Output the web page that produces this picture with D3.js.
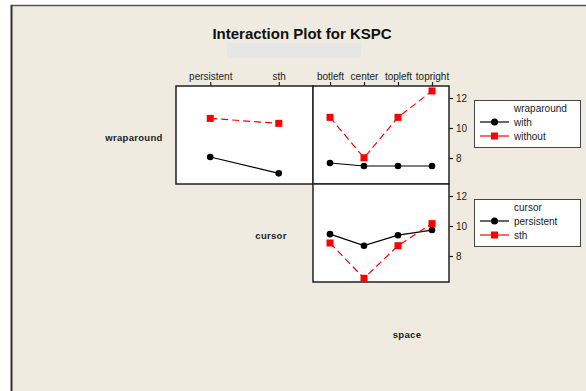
<!DOCTYPE html>
<html><head><meta charset="utf-8">
<script src="https://cdn.jsdelivr.net/npm/d3@7"></script>
<style>
html,body{margin:0;padding:0;background:#fff;}
svg{display:block;font-family:"Liberation Sans",Arial,sans-serif;}
</style></head>
<body>
<script>
// ---- data ----
const cursorLevels = ["persistent", "sth"];
const spaceLevels = ["botleft", "center", "topleft", "topright"];
const wrapLevels = ["with", "without"];
const yTicks = [8, 10, 12];

// wraparound x cursor (x = cursor)
const wrapByCursorWith = [8.07, 6.98];
const wrapByCursorWithout = [10.64, 10.31];
// wraparound x space (x = space)
const wrapBySpaceWith = [7.67, 7.47, 7.47, 7.47];
const wrapBySpaceWithout = [10.71, 8.02, 10.71, 12.47];
// cursor x space (x = space)
const cursorBySpacePersistent = [9.46, 8.69, 9.39, 9.73];
const cursorBySpaceSth = [8.87, 6.52, 8.69, 10.16];

const W = 586, H = 391;
const svg = d3.select("body").append("svg").attr("width", W).attr("height", H);

// background
svg.append("rect").attr("x", 11).attr("y", 5).attr("width", W - 11).attr("height", H - 5).attr("fill", "#efebe0");
svg.append("line").attr("x1", 11).attr("x2", W).attr("y1", 5.5).attr("y2", 5.5).attr("stroke", "#555").attr("stroke-width", 1.5);
svg.append("line").attr("x1", 11.5).attr("x2", 11.5).attr("y1", 5).attr("y2", H).attr("stroke", "#333").attr("stroke-width", 2);

// title
svg.append("text").attr("x", 302).attr("y", 39).attr("text-anchor", "middle")
  .attr("font-size", 15).attr("font-weight", "bold").attr("fill", "#111").text("Interaction Plot for KSPC");
svg.append("rect").attr("x", 227).attr("y", 43).attr("width", 134).attr("height", 15).attr("fill", "#e6e6e6");

// panels geometry
const c1 = {x0: 176, x1: 313}, c2 = {x0: 313, x1: 449};
const r1 = {y0: 86, y1: 184}, r2 = {y0: 184, y1: 282};

const xCursor = d3.scalePoint().domain(cursorLevels).range([c1.x0, c1.x1]).padding(0.5);
const xSpace = d3.scalePoint().domain(spaceLevels).range([c2.x0, c2.x1]).padding(0.5);
const yDomain = [6.27, 12.8];
const yTop = d3.scaleLinear().domain(yDomain).range([r1.y1, r1.y0]);
const yBot = d3.scaleLinear().domain(yDomain).range([r2.y1, r2.y0]);

function panel(c, r) {
  svg.append("rect").attr("x", c.x0).attr("y", r.y0).attr("width", c.x1 - c.x0).attr("height", r.y1 - r.y0)
    .attr("fill", "#fff").attr("stroke", "#222").attr("stroke-width", 1.5);
}
panel(c1, r1); panel(c2, r1); panel(c2, r2);

// top axes
function topAxis(scale, y) {
  const g = svg.append("g").attr("transform", `translate(0,${y})`)
    .call(d3.axisTop(scale).tickSize(4).tickSizeOuter(0));
  g.select(".domain").remove();
  g.selectAll("line").attr("stroke", "#222").attr("stroke-width", 1.2);
  g.selectAll("text").attr("font-size", 10).attr("fill", "#222")
    .attr("font-family", "'Liberation Sans',Arial,sans-serif").attr("dy", "0.1em");
}
topAxis(xCursor, r1.y0);
topAxis(xSpace, r1.y0);

// right axes
function rightAxis(scale, x) {
  const g = svg.append("g").attr("transform", `translate(${x},0)`)
    .call(d3.axisRight(scale).tickValues(yTicks).tickFormat(d3.format("d")).tickSize(4).tickSizeOuter(0));
  g.select(".domain").remove();
  g.selectAll("line").attr("stroke", "#222").attr("stroke-width", 1.2);
  g.selectAll("text").attr("font-size", 10).attr("fill", "#222")
    .attr("font-family", "'Liberation Sans',Arial,sans-serif").attr("x", 7);
}
rightAxis(yTop, c2.x1);
rightAxis(yBot, c2.x1);

// series drawing
function series(xs, ys, cats, vals, kind) {
  const pts = cats.map((c, i) => [xs(c), ys(vals[i])]);
  const line = d3.line();
  if (kind === 0) {
    svg.append("path").attr("d", line(pts)).attr("fill", "none").attr("stroke", "#000").attr("stroke-width", 1.2);
    svg.selectAll(null).data(pts).enter().append("circle")
      .attr("cx", d => d[0]).attr("cy", d => d[1]).attr("r", 3.3).attr("fill", "#000");
  } else {
    svg.append("path").attr("d", line(pts)).attr("fill", "none").attr("stroke", "#ff0000")
      .attr("stroke-width", 1.2).attr("stroke-dasharray", "7,4");
    svg.selectAll(null).data(pts).enter().append("rect")
      .attr("x", d => d[0] - 3.5).attr("y", d => d[1] - 3.5).attr("width", 7).attr("height", 7).attr("fill", "#ff0000");
  }
}
series(xCursor, yTop, cursorLevels, wrapByCursorWith, 0);
series(xCursor, yTop, cursorLevels, wrapByCursorWithout, 1);
series(xSpace, yTop, spaceLevels, wrapBySpaceWith, 0);
series(xSpace, yTop, spaceLevels, wrapBySpaceWithout, 1);
series(xSpace, yBot, spaceLevels, cursorBySpacePersistent, 0);
series(xSpace, yBot, spaceLevels, cursorBySpaceSth, 1);

// factor labels
function boldLabel(x, y, t) {
  svg.append("text").attr("x", x).attr("y", y).attr("text-anchor", "middle").attr("font-size", 9.5)
    .attr("font-weight", "bold").attr("fill", "#222").attr("dominant-baseline", "middle")
    .attr("letter-spacing", 0.3).text(t);
}
boldLabel(134, 138, "wraparound");
boldLabel(271, 236, "cursor");
boldLabel(407, 335, "space");

// legends
function legend(y0, title, labels) {
  const g = svg.append("g");
  g.append("rect").attr("x", 474.5).attr("y", y0 + 0.5).attr("width", 106).attr("height", 47)
    .attr("fill", "#fff").attr("stroke", "#444").attr("stroke-width", 1);
  g.append("text").attr("x", 514).attr("y", y0 + 12).attr("font-size", 10).attr("fill", "#222").text(title);
  labels.forEach((lab, i) => {
    const cy = y0 + 22 + i * 14;
    g.append("line").attr("x1", 480).attr("x2", 509).attr("y1", cy).attr("y2", cy)
      .attr("stroke", i === 0 ? "#000" : "#ff0000").attr("stroke-width", 1.2);
    if (i === 0) g.append("circle").attr("cx", 494.5).attr("cy", cy).attr("r", 3.5).attr("fill", "#000");
    else g.append("rect").attr("x", 491).attr("y", cy - 3.5).attr("width", 7).attr("height", 7).attr("fill", "#ff0000");
    g.append("text").attr("x", 514).attr("y", cy + 3.5).attr("font-size", 10).attr("fill", "#222").text(lab);
  });
}
legend(100, "wraparound", wrapLevels);
legend(199, "cursor", cursorLevels);
</script>
</body></html>
